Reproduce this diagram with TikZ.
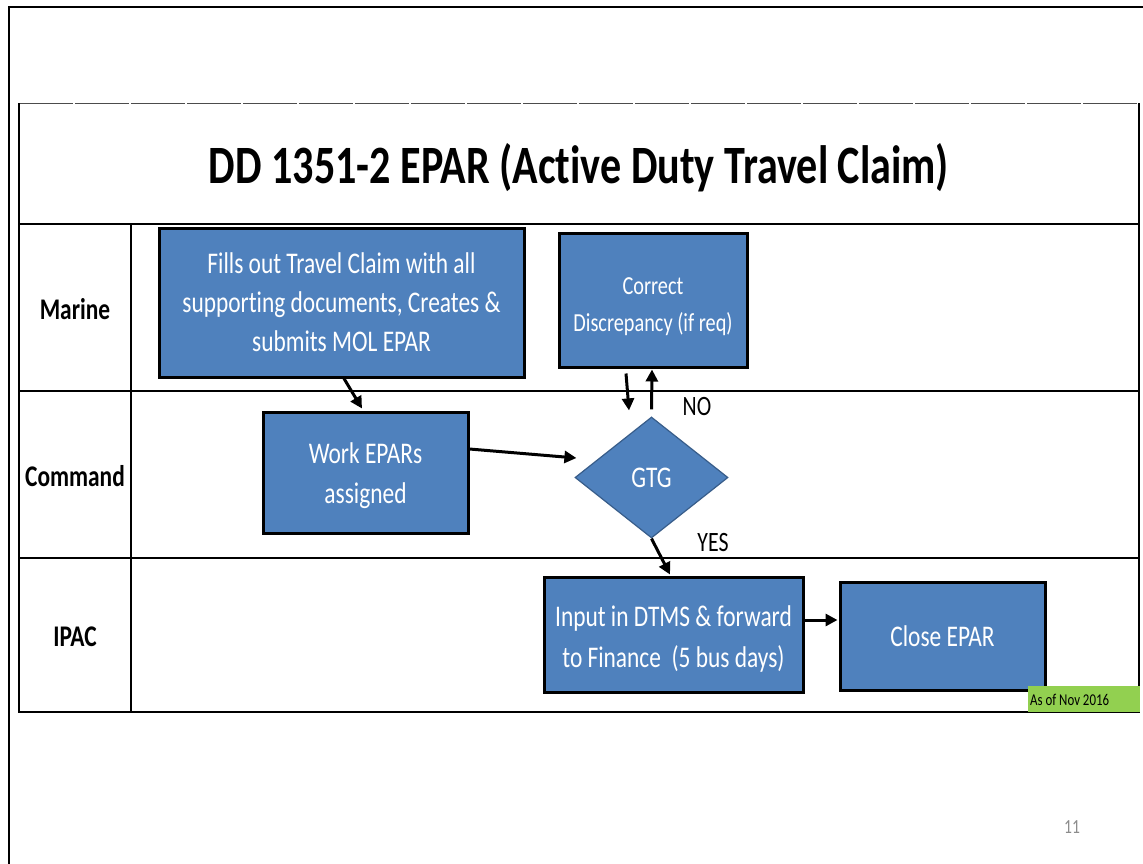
\documentclass[tikz,border=0pt]{standalone}
\usepackage{fontspec}
\setmainfont{Carlito}[FakeStretch=0.78, Ligatures=NoCommon]
\usetikzlibrary{shapes.geometric,arrows.meta}
\definecolor{boxblue}{HTML}{4F81BD}
\definecolor{boxedge}{HTML}{385D8A}
\definecolor{stampgreen}{HTML}{92D050}
\definecolor{pagegray}{HTML}{8C8C8C}
\tikzset{
  stepbox/.style={draw=black, line width=3pt, fill=boxblue, text=white, align=center, inner sep=0pt},
  decision/.style={diamond, draw=boxedge, line width=1.2pt, fill=boxblue, text=white, inner sep=0pt},
  lanelabel/.style={font=\bfseries\fontsize{30}{36}\selectfont, text=black},
  flow/.style={draw=black, line width=3pt, -{Triangle[length=12pt,width=12pt]}},
  branch/.style={font=\fontsize{28}{32}\selectfont, text=black},
  gridline/.style={draw=black, line width=2pt},
}
\begin{document}
\begin{tikzpicture}[x=1pt,y=-1pt]
\useasboundingbox (0,0) rectangle (1143,863);
\fill[white] (0,0) rectangle (1143,863);
% outer slide frame
\draw[line width=2.5pt] (1143,7) -- (9,7) -- (9,866);
% table
\draw[draw=black!70, line width=0.9pt, dash pattern=on 54pt off 2pt] (19,103) -- (1139,103);
\draw[gridline] (19,103) -- (19,712) -- (1139,712) -- (1139,103);
\draw[gridline, line width=2.6pt] (19,224) -- (1139,224);
\draw[gridline] (131,224) -- (131,712);
\draw[gridline] (19,391) -- (1139,391);
\draw[gridline] (19,558) -- (1139,558);
% title
\node[font=\bfseries\fontsize{54}{60}\selectfont] (title) at (579,168) {DD 1351-2 EPAR (Active Duty Travel Claim)};
% lane labels
\node[lanelabel] (lmarine) at (75,309) {Marine};
\node[lanelabel] (lcommand) at (75,476) {Command};
\node[lanelabel] (lipac) at (75,637) {IPAC};
% steps
\node[stepbox, minimum width=365pt, minimum height=149pt, font=\fontsize{30}{39}\selectfont] (b1) at (341.5,302.5)
  {Fills out Travel Claim with all\\supporting documents, Creates \&\\submits MOL EPAR};
\node[stepbox, minimum width=188pt, minimum height=134pt, font=\fontsize{26}{37}\selectfont] (b2) at (653,300)
  {\rule{0pt}{30pt}Correct\\Discrepancy (if req)};
\node[stepbox, minimum width=205pt, minimum height=121pt, font=\fontsize{30}{40}\selectfont] (b3) at (365.5,472.5)
  {\rule{0pt}{27pt}Work EPARs\\assigned};
\node[decision, minimum width=153pt, minimum height=121pt, font=\fontsize{30}{36}\selectfont] (gtg) at (651.5,477.5) {GTG};
\node[stepbox, minimum width=259pt, minimum height=115pt, font=\fontsize{30}{41}\selectfont] (b4) at (673.5,634.5)
  {\rule{0pt}{29pt}Input in DTMS \& forward\\to Finance\ \ (5 bus days)};
\node[stepbox, minimum width=205pt, minimum height=108pt, font=\fontsize{30}{36}\selectfont] (b5) at (942.5,636)
  {Close EPAR};
% branch labels
\node[branch] (no) at (697,407) {NO};
\node[branch] (yes) at (713,542) {YES};
% connectors
\draw[flow] ([xshift=2.5pt]b1.south) -- ([xshift=-3.5pt,yshift=2pt]b3.north);
\draw[flow] ([yshift=23.5pt]b3.east) -- ([xshift=2pt,yshift=19.5pt]gtg.west);
\draw[flow] ([xshift=-27pt,yshift=-5pt]b2.south) -- ([xshift=-22.5pt,yshift=6pt]gtg.north);
\draw[flow] ([yshift=7pt]gtg.north) -- ([xshift=-1pt,yshift=-1pt]b2.south);
\draw[flow] (gtg.south) -- ([xshift=-3.5pt,yshift=1pt]b4.north);
\draw[flow] ([yshift=14.5pt]b4.east) -- ([xshift=-1pt,yshift=16pt]b5.west);
% stamp
\fill[stampgreen] (1028,686) rectangle (1140,712);
\node[anchor=west, inner sep=0pt, font=\fontsize{16.5}{18}\selectfont] (stamp) at (1030,700) {As of Nov 2016};
% page number
\node[text=pagegray, font=\fontsize{20}{22}\selectfont] (pageno) at (1072,827) {11};
\end{tikzpicture}
\end{document}
